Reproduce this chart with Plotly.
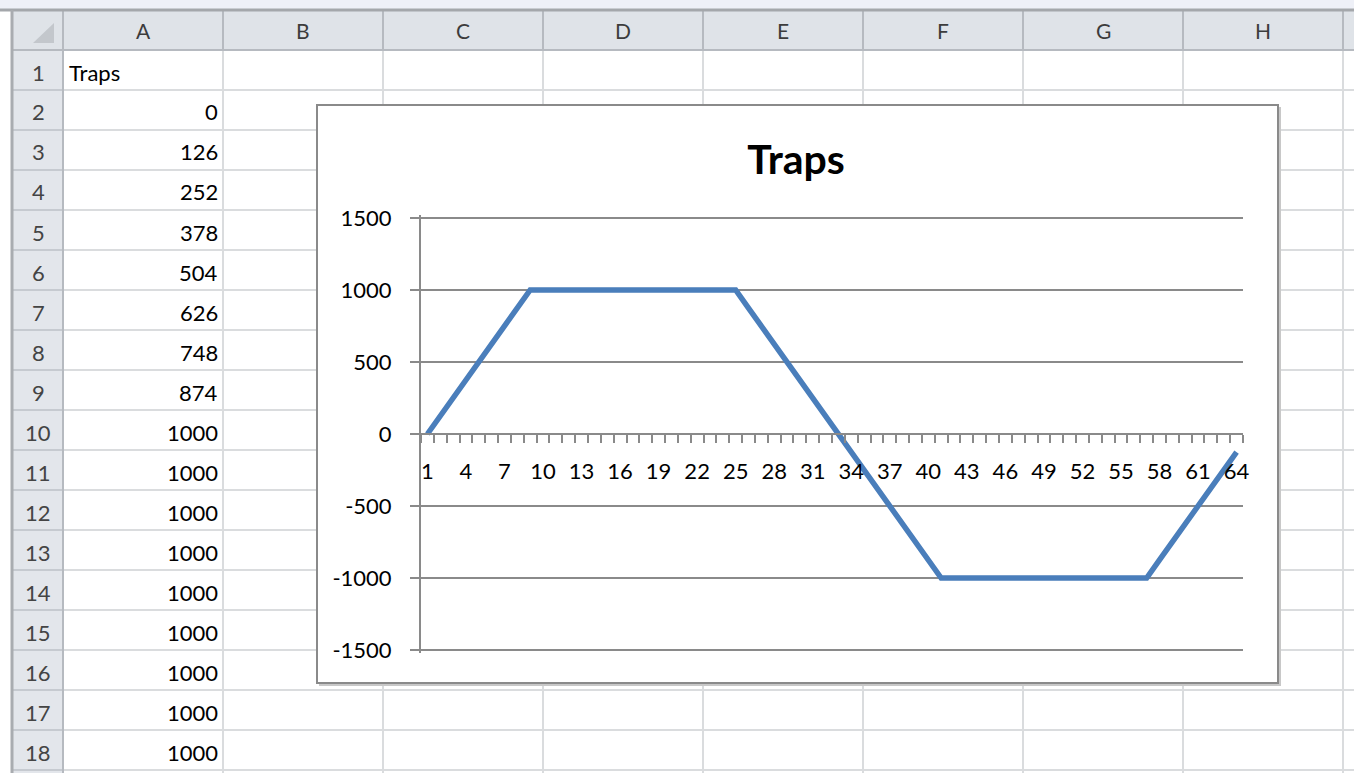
import plotly.graph_objects as go

# ---------------- data ----------------
chart_title = "Traps"
categories = list(range(1, 65))
traps = [0, 126, 252, 378, 504, 626, 748, 874, 1000,
         1000, 1000, 1000, 1000, 1000, 1000, 1000, 1000,
         1000, 1000, 1000, 1000, 1000, 1000, 1000, 1000,
         874, 748, 626, 504, 378, 252, 126, 0,
         -126, -252, -378, -504, -626, -748, -874, -1000,
         -1000, -1000, -1000, -1000, -1000, -1000, -1000, -1000,
         -1000, -1000, -1000, -1000, -1000, -1000, -1000, -1000,
         -874, -748, -626, -504, -378, -252, -126]
x_tick_vals = [1, 4, 7, 10, 13, 16, 19, 22, 25, 28, 31, 34, 37, 40, 43, 46,
               49, 52, 55, 58, 61, 64]
x_tick_text = [str(v) for v in x_tick_vals]
y_tick_vals = [-1500, -1000, -500, 0, 500, 1000, 1500]
y_tick_text = ["-1500", "-1000", "-500", "0", "500", "1000", "1500"]

col_letters = ["A", "B", "C", "D", "E", "F", "G", "H"]
row_numbers = list(range(1, 19))
header_cell = "Traps"
column_a_values = traps[:17]

# ---------------- geometry (pixels) ----------------
W, H = 1354, 773
FONT = "Lato"
HDR_TOP, HDR_BOT = 10, 50
ROW_H = 40
LEFT = 12
COL0 = 63
COL_W = 160
GRID = "#dadcde"
HDR_LINE = "#b6bac0"


def fx(x):
    return x / W


def fy(y):
    return 1 - y / H


shapes = []


def rect(x0, y0, x1, y1, fill, line=None, lw=0):
    shapes.append(dict(type="rect", xref="paper", yref="paper", layer="below",
                       x0=fx(x0), x1=fx(x1), y0=fy(y0), y1=fy(y1),
                       fillcolor=fill,
                       line=dict(color=line or fill, width=lw)))


def seg(x0, y0, x1, y1, color, w=2):
    shapes.append(dict(type="line", xref="paper", yref="paper", layer="below",
                       x0=fx(x0), x1=fx(x1), y0=fy(y0), y1=fy(y1),
                       line=dict(color=color, width=w)))


# top strip and headers
rect(0, 0, W, HDR_TOP, "#eef0f7")
rect(LEFT, HDR_TOP, W, HDR_BOT, "#dfe3e8")
rect(LEFT, HDR_BOT, COL0, H, "#e3e6eb")

# cell grid
n_rows = len(row_numbers) + 1
for r in range(1, n_rows + 1):
    y = HDR_BOT + r * ROW_H
    seg(COL0, y, W, y, GRID)
    seg(LEFT, y, COL0, y, "#c6cad0")
for c in range(1, len(col_letters) + 1):
    x = COL0 + c * COL_W
    seg(x, HDR_BOT, x, H, GRID)
    seg(x, HDR_TOP, x, HDR_BOT, HDR_LINE)

seg(LEFT, HDR_BOT, W, HDR_BOT, HDR_LINE)
seg(COL0, HDR_TOP, COL0, H, HDR_LINE)
seg(0, HDR_TOP, W, HDR_TOP, "#a4a7ab", 3)
seg(LEFT, HDR_TOP, LEFT, H, "#a9acb0", 3)

# corner triangle
shapes.append(dict(type="path", xref="paper", yref="paper", layer="below",
                   path=f"M {fx(33)} {fy(43)} L {fx(54)} {fy(43)} L {fx(54)} {fy(23)} Z",
                   fillcolor="#c3c7cc", line=dict(width=0)))

# chart box
rect(319, 107, 1281, 686, "#c8c8c8")
rect(317, 105, 1278, 683, "#ffffff", "#8a8a8a", 2)

annotations = []
for i, letter in enumerate(col_letters):
    annotations.append(dict(xref="paper", yref="paper", x=fx(COL0 + i * COL_W + COL_W / 2),
                            y=fy(31), text=letter, showarrow=False,
                            xanchor="center", yanchor="middle",
                            font=dict(family=FONT, size=21, color="#3c3c3c")))
for i, rn in enumerate(row_numbers):
    annotations.append(dict(xref="paper", yref="paper", x=fx(38),
                            y=fy(HDR_BOT + i * ROW_H + 22), text=str(rn), showarrow=False,
                            xanchor="center", yanchor="middle",
                            font=dict(family=FONT, size=22, color="#444444")))
annotations.append(dict(xref="paper", yref="paper", x=fx(67), y=fy(HDR_BOT + 22),
                        text=header_cell, showarrow=False, xanchor="left", yanchor="middle",
                        font=dict(family=FONT, size=22, color="#000000")))
for i, v in enumerate(column_a_values):
    annotations.append(dict(xref="paper", yref="paper", x=fx(220),
                            y=fy(HDR_BOT + (i + 1) * ROW_H + 22), text=str(v), showarrow=False,
                            xanchor="right", yanchor="middle",
                            font=dict(family=FONT, size=22, color="#000000")))

# ---------------- chart ----------------
AX = "#8a8a8a"
fig = go.Figure()
fig.add_trace(go.Scatter(x=categories, y=traps, mode="lines",
                         line=dict(color="#4a7ebb", width=5.5), showlegend=False,
                         hoverinfo="x+y"))

plot_left, plot_right = 421, 1243
plot_top, plot_bot = 218, 650
# small padding so that the ±1500 gridlines are drawn (plotly hides edge gridlines)
Y_PAD = 18
pad_px = (plot_bot - plot_top) * Y_PAD / 3000

fig.update_layout(
    width=W, height=H,
    margin=dict(l=0, r=0, t=0, b=0, autoexpand=False),
    paper_bgcolor="#ffffff",
    plot_bgcolor="rgba(0,0,0,0)",
    shapes=shapes,
    annotations=annotations,
    title=dict(text="<b>" + chart_title + "</b>", xref="paper", yref="paper",
               x=fx(796), y=fy(160), xanchor="center", yanchor="middle",
               font=dict(family=FONT, size=41, color="#000000")),
    xaxis=dict(domain=[fx(plot_left), fx(plot_right)], range=[0.5, 64.5],
               anchor="free", position=fy(434), automargin=False,
               showgrid=False, zeroline=False, showline=True, linecolor=AX, linewidth=2,
               tickmode="array", tickvals=x_tick_vals, ticktext=x_tick_text,
               ticks="outside", ticklen=8, tickcolor="rgba(0,0,0,0)",
               ticklabelstandoff=10,
               tickfont=dict(family=FONT, size=22, color="#000000"),
               minor=dict(tick0=0.5, dtick=1, ticks="outside", ticklen=8,
                          tickwidth=2, tickcolor=AX, showgrid=False)),
    yaxis=dict(domain=[fy(plot_bot + pad_px), fy(plot_top - pad_px)],
               range=[-1500 - Y_PAD, 1500 + Y_PAD],
               automargin=False,
               tickmode="array", tickvals=y_tick_vals, ticktext=y_tick_text,
               showgrid=True, gridcolor=AX, gridwidth=2, zeroline=False,
               showline=True, linecolor=AX, linewidth=2,
               ticks="outside", ticklen=9, tickwidth=2, tickcolor=AX,
               ticklabelstandoff=14,
               tickfont=dict(family=FONT, size=22, color="#000000")),
)

fig.write_html("out.html", config={"displayModeBar": False},
               post_script="document.body.style.margin='0';document.body.style.overflow='hidden';")
